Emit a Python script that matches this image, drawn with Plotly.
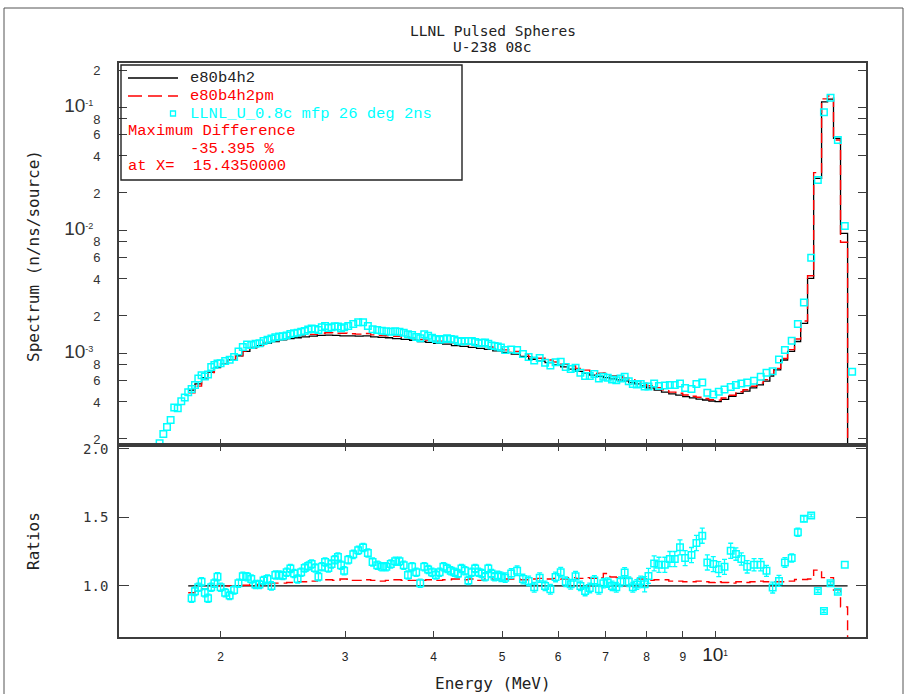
import plotly.graph_objects as go
import numpy as np

# ---------------- data ----------------
# Experimental points (energy in MeV) and measured spectrum (n/ns/source)
exp_energy = [
    1.64, 1.66, 1.68, 1.70, 1.72, 1.74, 1.76, 1.78, 1.80,
    1.82, 1.84, 1.86, 1.88, 1.90, 1.92, 1.94, 1.96, 1.98, 2.00,
    2.03, 2.06, 2.09, 2.12, 2.15, 2.18, 2.21, 2.24, 2.27, 2.30, 2.33, 2.36, 2.39, 2.42, 2.45, 2.48,
    2.51, 2.54, 2.57, 2.60, 2.63, 2.66, 2.69, 2.72, 2.75, 2.78, 2.81, 2.84, 2.87, 2.90, 2.93, 2.96, 2.99,
    3.03, 3.08, 3.13, 3.18, 3.23, 3.28, 3.33, 3.38, 3.43, 3.48, 3.53, 3.58, 3.63, 3.68, 3.73, 3.78,
    3.83, 3.88, 3.93, 3.98, 4.03, 4.08, 4.13, 4.18, 4.23, 4.28, 4.33, 4.38, 4.43, 4.48, 4.53, 4.58,
    4.63, 4.68, 4.73, 4.78, 4.83, 4.88, 4.93, 4.98,
    5.05, 5.15, 5.25, 5.35, 5.45, 5.55, 5.65, 5.75, 5.85, 5.95, 6.05, 6.15, 6.25, 6.35, 6.45,
    6.55, 6.65, 6.75, 6.85, 6.95, 7.05, 7.15, 7.25, 7.35, 7.45, 7.55, 7.65, 7.75, 7.85, 7.95,
    8.05, 8.20, 8.33, 8.49, 8.63, 8.77, 8.92, 9.07, 9.26, 9.41, 9.59, 9.75, 9.94, 10.12, 10.31, 10.52, 10.70,
    10.89, 11.10, 11.35, 11.60, 11.82, 12.06, 12.31, 12.55, 12.83, 13.09, 13.35, 13.67, 13.97,
    14.25, 14.56, 14.91, 15.25, 15.62,
]
exp_spectrum = [
    1.85e-4, 2.2e-4, 2.5e-4, 2.85e-4, 3.6e-4, 3.55e-4, 4.05e-4, 4.35e-4, 4.8e-4,
    5.1e-4, 5.5e-4, 6.2e-4, 6.6e-4, 6.45e-4, 6.7e-4, 7.7e-4, 8.0e-4, 8.2e-4, 8.25e-4,
    8.6e-4, 8.8e-4, 9.3e-4, 1.03e-3, 1.12e-3, 1.17e-3, 1.16e-3, 1.19e-3, 1.2e-3, 1.25e-3, 1.28e-3,
    1.31e-3, 1.34e-3, 1.36e-3, 1.37e-3, 1.39e-3, 1.43e-3, 1.45e-3, 1.46e-3, 1.49e-3, 1.51e-3,
    1.55e-3, 1.58e-3, 1.57e-3, 1.54e-3, 1.62e-3, 1.66e-3, 1.6e-3, 1.62e-3, 1.65e-3, 1.64e-3, 1.59e-3, 1.62e-3,
    1.66e-3, 1.72e-3, 1.78e-3, 1.78e-3, 1.66e-3, 1.56e-3, 1.54e-3, 1.52e-3, 1.50e-3, 1.49e-3,
    1.50e-3, 1.49e-3, 1.46e-3, 1.42e-3, 1.40e-3, 1.35e-3, 1.32e-3, 1.42e-3, 1.38e-3, 1.33e-3,
    1.30e-3, 1.28e-3, 1.30e-3, 1.32e-3, 1.30e-3, 1.29e-3, 1.25e-3, 1.24e-3, 1.25e-3, 1.25e-3,
    1.25e-3, 1.23e-3, 1.20e-3, 1.21e-3, 1.22e-3, 1.19e-3, 1.15e-3, 1.14e-3, 1.13e-3, 1.11e-3,
    1.06e-3, 1.07e-3, 1.06e-3, 9.8e-4, 9.3e-4, 8.7e-4, 9.1e-4, 8.35e-4, 7.9e-4, 8.4e-4,
    8.5e-4, 7.7e-4, 7.4e-4, 7.6e-4, 6.9e-4, 6.5e-4, 6.5e-4, 6.75e-4, 6.2e-4, 6.4e-4,
    6.3e-4, 6.1e-4, 6.0e-4, 6.2e-4, 6.4e-4, 5.9e-4, 5.6e-4, 5.55e-4, 5.6e-4, 5.35e-4,
    5.35e-4, 5.65e-4, 5.4e-4, 5.45e-4, 5.5e-4, 5.5e-4, 5.65e-4, 5.2e-4, 5.1e-4, 5.6e-4,
    5.75e-4, 4.75e-4, 4.6e-4, 4.85e-4, 5.05e-4, 5.3e-4, 5.5e-4,
    5.65e-4, 5.75e-4, 5.95e-4, 6.4e-4, 6.9e-4, 7.1e-4, 8.85e-4, 1.06e-3, 1.26e-3, 1.72e-3,
    2.58e-3, 5.96e-3, 2.55e-2, 9.05e-2, 0.119, 0.054, 0.0108, 7.05e-4,
]

# Ratio experiment / e80b4h2 (points from 1.82 to 15.25 MeV) and its error bars
ratio_energy = exp_energy[9:-1]
ratio_exp = [
    0.91, 0.96, 0.99, 1.03, 0.95, 0.91, 0.99, 1.02, 1.066, 0.99,
    0.95, 0.93, 0.97, 1.02, 1.07, 1.066, 1.05, 1.01, 1.01, 1.04, 1.05, 1.0, 1.08, 1.08, 1.075,
    1.1, 1.127, 1.09, 1.05, 1.1, 1.13, 1.145, 1.16, 1.13, 1.066, 1.14, 1.175, 1.13, 1.16, 1.19,
    1.21, 1.15, 1.11,
    1.19, 1.23, 1.26, 1.28, 1.24, 1.175, 1.15, 1.14, 1.14, 1.16, 1.18, 1.18, 1.15, 1.08, 1.14,
    1.1, 1.02, 1.14, 1.12, 1.1, 1.08, 1.1, 1.14, 1.127, 1.11, 1.1, 1.09, 1.127, 1.11, 1.04, 1.1,
    1.127, 1.1, 1.09, 1.066, 1.127, 1.09, 1.066, 1.078, 1.066,
    1.06, 1.09, 1.11, 1.05, 1.036, 0.99, 1.06, 1.0, 0.975, 1.065, 1.1, 1.03, 1.012, 1.07, 1.0,
    0.963, 0.985, 1.04, 0.975, 1.02, 1.024, 1.0, 0.99, 1.03, 1.098, 1.03, 0.99, 1.01, 1.036, 1.012,
    1.073, 1.164, 1.154, 1.154, 1.196, 1.196, 1.281, 1.203, 1.225, 1.313, 1.366, 1.171, 1.159,
    1.122, 1.139, 1.256, 1.232,
    1.196, 1.139, 1.154, 1.154, 1.11, 0.988, 1.036, 1.171, 1.203, 1.391, 1.489, 1.513, 0.963,
    0.816, 1.02, 0.958, 1.154,
]
ratio_err = [
    0.03, 0.03, 0.03, 0.03, 0.03, 0.03, 0.03, 0.03, 0.03, 0.03,
    0.03, 0.03, 0.03, 0.03, 0.03, 0.03, 0.03, 0.03, 0.03, 0.03, 0.03, 0.03, 0.03, 0.03, 0.03,
    0.03, 0.03, 0.03, 0.03, 0.03, 0.03, 0.03, 0.03, 0.03, 0.03, 0.03, 0.03, 0.03, 0.03, 0.03,
    0.03, 0.03, 0.03,
    0.03, 0.03, 0.03, 0.03, 0.03, 0.03, 0.03, 0.03, 0.03, 0.03, 0.03, 0.03, 0.03, 0.03, 0.03,
    0.03, 0.03, 0.03, 0.03, 0.03, 0.03, 0.03, 0.03, 0.03, 0.03, 0.03, 0.03, 0.03, 0.03, 0.03,
    0.03, 0.03, 0.03, 0.03, 0.03, 0.03, 0.03, 0.03, 0.03,
    0.035, 0.035, 0.035, 0.035, 0.035, 0.035, 0.035, 0.035, 0.035, 0.035, 0.035, 0.035, 0.035,
    0.035, 0.035, 0.035, 0.035, 0.035, 0.035, 0.035, 0.035, 0.035, 0.035, 0.035, 0.035, 0.035,
    0.035, 0.035, 0.035, 0.035,
    0.055, 0.055, 0.055, 0.055, 0.055, 0.055, 0.055, 0.055, 0.055, 0.055, 0.055, 0.055, 0.055,
    0.055, 0.055, 0.055, 0.055,
    0.045, 0.045, 0.045, 0.045, 0.045, 0.04, 0.04, 0.04, 0.035, 0.03, 0.03, 0.02, 0.01,
    0.01, 0.01, 0.01, 0.01,
]

# Calculated spectra (histogram bins; value holds from this edge to the next one)
calc_edges = [
    1.80, 1.84, 1.88, 1.92, 1.96, 2.00, 2.05, 2.10, 2.15, 2.20, 2.25, 2.30, 2.36, 2.42, 2.48,
    2.54, 2.60, 2.67, 2.74, 2.81, 2.88, 2.95, 3.02, 3.10, 3.18, 3.26, 3.34, 3.42, 3.50, 3.60,
    3.70, 3.80, 3.90, 4.00, 4.12, 4.24, 4.36, 4.48, 4.60, 4.72, 4.85, 5.00, 5.15, 5.30, 5.45,
    5.60, 5.75, 5.90, 6.05, 6.20, 6.35, 6.50, 6.65, 6.80, 6.95, 7.10, 7.25, 7.40, 7.55, 7.70,
    7.85, 8.00, 8.20, 8.40, 8.60, 8.80, 9.00, 9.20, 9.40, 9.60, 9.80, 10.00, 10.20, 10.45,
    10.70, 10.95, 11.20, 11.45, 11.70, 11.95, 12.10, 12.38, 12.66, 12.95, 13.21, 13.51, 13.78,
    14.14, 14.42, 14.70, 15.04, 15.39, 15.50,
]
calc_e80b4h2 = [
    5.0e-4, 5.6e-4, 6.3e-4, 7.0e-4, 7.6e-4, 8.2e-4, 8.8e-4, 9.5e-4, 1.03e-3, 1.10e-3,
    1.15e-3, 1.20e-3, 1.24e-3, 1.28e-3, 1.31e-3, 1.33e-3, 1.35e-3, 1.37e-3, 1.39e-3, 1.40e-3,
    1.39e-3, 1.38e-3, 1.38e-3, 1.37e-3, 1.38e-3, 1.35e-3, 1.34e-3, 1.33e-3, 1.31e-3, 1.29e-3,
    1.27e-3, 1.24e-3, 1.22e-3, 1.20e-3, 1.18e-3, 1.15e-3, 1.13e-3, 1.11e-3, 1.09e-3, 1.07e-3,
    1.04e-3, 1.01e-3, 9.8e-4, 9.4e-4, 8.9e-4, 8.6e-4, 8.35e-4, 8.0e-4, 7.7e-4, 7.4e-4,
    7.1e-4, 6.85e-4, 6.6e-4, 6.45e-4, 6.3e-4, 6.15e-4, 6.05e-4, 5.95e-4, 5.75e-4, 5.6e-4,
    5.4e-4, 5.2e-4, 5.0e-4, 4.8e-4, 4.65e-4, 4.55e-4, 4.42e-4, 4.32e-4, 4.22e-4, 4.15e-4,
    4.07e-4, 4.02e-4, 4.2e-4, 4.45e-4, 4.7e-4, 4.9e-4, 5.2e-4, 5.5e-4, 5.9e-4, 6.5e-4,
    7.28e-4, 8.77e-4, 1.03e-3, 1.24e-3, 1.74e-3, 4.05e-3, 2.63e-2, 0.110, 0.116, 0.0557,
    9.4e-3, 1e-7, 1e-7,
]
calc_e80b4h2pm = [
    4.75e-4, 5.38e-4, 6.17e-4, 6.93e-4, 7.6e-4, 8.2e-4, 8.8e-4, 9.5e-4, 1.035e-3, 1.111e-3,
    1.162e-3, 1.218e-3, 1.265e-3, 1.306e-3, 1.343e-3, 1.370e-3, 1.391e-3, 1.418e-3, 1.446e-3, 1.463e-3,
    1.446e-3, 1.449e-3, 1.435e-3, 1.425e-3, 1.442e-3, 1.404e-3, 1.387e-3, 1.383e-3, 1.369e-3, 1.342e-3,
    1.321e-3, 1.290e-3, 1.275e-3, 1.248e-3, 1.233e-3, 1.208e-3, 1.181e-3, 1.166e-3, 1.134e-3, 1.124e-3,
    1.087e-3, 1.061e-3, 1.029e-3, 9.82e-4, 9.35e-4, 9.07e-4, 8.77e-4, 8.44e-4, 8.09e-4, 7.84e-4,
    7.49e-4, 7.26e-4, 6.96e-4, 6.84e-4, 6.87e-4, 6.55e-4, 6.41e-4, 6.28e-4, 6.07e-4, 5.88e-4,
    5.67e-4, 5.41e-4, 5.23e-4, 5.02e-4, 4.81e-4, 4.71e-4, 4.55e-4, 4.45e-4, 4.37e-4, 4.27e-4,
    4.17e-4, 4.14e-4, 4.31e-4, 4.54e-4, 4.84e-4, 5.02e-4, 5.36e-4, 5.69e-4, 6.08e-4, 6.70e-4,
    7.50e-4, 9.03e-4, 1.066e-3, 1.298e-3, 1.822e-3, 4.25e-3, 2.93e-2, 0.1166, 0.123, 0.054,
    7.96e-3, 1e-7, 1e-7,
]
ratio_pm = [
    0.95, 0.96, 0.98, 0.99, 1.0, 1.0, 1.0, 1.0, 1.005, 1.01,
    1.01, 1.015, 1.02, 1.02, 1.025, 1.03, 1.03, 1.035, 1.04, 1.045,
    1.04, 1.05, 1.04, 1.04, 1.045, 1.04, 1.035, 1.04, 1.045, 1.04,
    1.04, 1.04, 1.045, 1.04, 1.045, 1.05, 1.045, 1.05, 1.04, 1.05,
    1.045, 1.05, 1.05, 1.045, 1.05, 1.055, 1.05, 1.055, 1.05, 1.06,
    1.055, 1.06, 1.055, 1.06, 1.09, 1.065, 1.06, 1.055, 1.055, 1.05,
    1.05, 1.04, 1.045, 1.045, 1.035, 1.035, 1.03, 1.03, 1.035, 1.03,
    1.025, 1.03, 1.025, 1.02, 1.03, 1.025, 1.03, 1.035, 1.03, 1.03,
    1.03, 1.03, 1.035, 1.047, 1.047, 1.05, 1.115, 1.06, 1.06, 0.97,
    0.847, 0.3, 0.3,
]

x_tick_values = [2, 3, 4, 5, 6, 7, 8, 9, 10]
x_tick_labels = ['2', '3', '4', '5', '6', '7', '8', '9',
                 '<span style="font-size:19px">10</span><sup>1</sup>']
ratio_tick_values = [1.0, 1.5, 2.0]
ratio_tick_labels = ['1.0', '1.5', '2.0']

# ---------------- styling ----------------
AX = '#3c3c3c'
CYAN = '#00FFFF'
RED = '#FF0000'
MONO = 'DejaVu Sans Mono'
COUR = 'Liberation Mono'
NB = '\u00a0'

X_RANGE = [np.log10(1.437), np.log10(16.34)]
Y_RANGE = [-3.748, -0.642]
R_RANGE = [0.627, 2.028]
SPLIT = 0.3345

# tick positions for the log spectrum axis: labelled (2,4,6,8,10) / unlabelled (3,5,7,9)
lab_vals, lab_text, plain_vals, decade_vals = [], [], [], []
for d in range(-4, 0):
    for k in range(1, 10):
        v = k * 10.0 ** d
        lv = np.log10(v)
        if Y_RANGE[0] <= lv <= Y_RANGE[1]:
            if k == 1:
                lab_vals.append(v)
                lab_text.append('<span style="font-size:19px">10</span><sup>%d</sup>%s' % (d, NB * 2))
                decade_vals.append(v)
            elif k in (2, 4, 6, 8):
                lab_vals.append(v)
                lab_text.append(str(k))
            else:
                plain_vals.append(v)

minor_ratio_vals = [round(0.65 + 0.05 * i, 2) for i in range(28) if 0.65 + 0.05 * i <= 2.0]

calc_y = np.array(calc_e80b4h2)
ref_ratio = calc_y[:-1] / calc_y[:-1]

fig = go.Figure()

# ---- top panel ----
fig.add_trace(go.Scatter(x=calc_edges, y=calc_e80b4h2, mode='lines', line_shape='hv',
                         line=dict(color='black', width=1.3), xaxis='x', yaxis='y'))
fig.add_trace(go.Scatter(x=calc_edges, y=calc_e80b4h2pm, mode='lines', line_shape='hv',
                         line=dict(color=RED, width=1.4, dash='10px,5px'), xaxis='x', yaxis='y'))
fig.add_trace(go.Scatter(x=exp_energy, y=exp_spectrum, mode='markers',
                         marker=dict(symbol='square-open', size=6.5, color=CYAN, line=dict(width=1.5, color=CYAN)),
                         xaxis='x', yaxis='y'))

# ---- ratio panel ----
fig.add_trace(go.Scatter(x=calc_edges[:-1], y=ref_ratio, mode='lines', line_shape='hv',
                         line=dict(color='black', width=1.3), xaxis='x2', yaxis='y2'))
fig.add_trace(go.Scatter(x=calc_edges, y=ratio_pm, mode='lines', line_shape='hv',
                         line=dict(color=RED, width=1.4, dash='10px,5px'), xaxis='x2', yaxis='y2'))
fig.add_trace(go.Scatter(x=ratio_energy, y=ratio_exp, mode='markers',
                         marker=dict(symbol='square-open', size=6.5, color=CYAN, line=dict(width=1.5, color=CYAN)),
                         error_y=dict(type='data', array=ratio_err, color=CYAN, thickness=1.3, width=2.5),
                         xaxis='x2', yaxis='y2'))

common = dict(showgrid=False, zeroline=False, showline=True, linecolor=AX, linewidth=1.6,
              ticks='inside', tickcolor=AX, tickwidth=1.2)
cx = dict(common, type='log', range=X_RANGE)
cy = dict(common, type='log', range=Y_RANGE)
cr = dict(common, range=R_RANGE)

fig.update_layout(
    width=906, height=694,
    margin=dict(l=119, r=40, t=63, b=57),
    paper_bgcolor='white', plot_bgcolor='white', showlegend=False,
    xaxis=dict(cx, anchor='y', domain=[0, 1], tickvals=x_tick_values, ticklen=6,
               showticklabels=False, mirror=True),
    xaxis3=dict(cx, anchor='y', overlaying='x', tickvals=[10], ticklen=15, showticklabels=False),
    xaxis2=dict(cx, anchor='y2', domain=[0, 1], tickvals=x_tick_values, ticktext=x_tick_labels,
                ticklen=6, mirror='ticks',
                tickfont=dict(family='Liberation Sans', size=12, color='#222'), ticklabelstandoff=8),
    xaxis4=dict(cx, anchor='y2', overlaying='x2', tickvals=[10], ticklen=18, mirror='ticks',
                showticklabels=False),
    yaxis=dict(cy, domain=[SPLIT, 1], anchor='x', mirror='ticks', ticklen=8,
               tickvals=lab_vals, ticktext=lab_text,
               tickfont=dict(family='Liberation Sans', size=13, color='#333'), ticklabelstandoff=14),
    yaxis3=dict(cy, overlaying='y', anchor='x', mirror='ticks', ticklen=16, tickvals=decade_vals,
                showticklabels=False),
    yaxis5=dict(cy, overlaying='y', anchor='x', mirror='ticks', ticklen=8, tickvals=plain_vals,
                showticklabels=False),
    yaxis2=dict(cr, domain=[0, SPLIT], anchor='x2', mirror='ticks', ticklen=10,
                tickvals=ratio_tick_values, ticktext=ratio_tick_labels,
                tickfont=dict(family=MONO, size=14, color='#333'), ticklabelstandoff=6),
    yaxis4=dict(cr, overlaying='y2', anchor='x2', mirror='ticks', ticklen=5,
                tickvals=minor_ratio_vals, showticklabels=False),
)

def px(xp):
    return (xp - 119) / 747.0

def py(yp):
    return (637 - yp) / 574.0

ann = []
def text(s, x, y, size=16, color='#222', family=MONO, xanchor='center', angle=0):
    ann.append(dict(text=s, x=px(x), y=py(y), xref='paper', yref='paper', showarrow=False,
                    xanchor=xanchor, yanchor='middle', textangle=angle,
                    font=dict(family=family, size=size, color=color)))

text('LLNL Pulsed Spheres', 492.5, 31, size=14.5)
text('U-238 08c', 492.5, 47, size=14.5)
text('Energy (MeV)', 492.5, 683, size=16)
text('Spectrum (n/ns/source)', 33, 256, size=16, angle=-90)
text('Ratios', 33, 541, size=16, angle=-90)

LS = 15.5
text('e80b4h2', 188, 78, size=LS, color='#222', family=COUR, xanchor='left')
text('e80b4h2pm', 188, 96, size=LS, color=RED, family=COUR, xanchor='left')
text('LLNL_U_0.8c mfp 26 deg 2ns', 188, 113.5, size=LS, color=CYAN, family=COUR, xanchor='left')
text('Maximum Difference', 126, 131, size=LS, color=RED, family=COUR, xanchor='left')
text('-35.395 %', 188, 148.5, size=LS, color=RED, family=COUR, xanchor='left')
text('at X=' + NB + NB + '15.4350000', 126, 165.5, size=LS, color=RED, family=COUR, xanchor='left')

shapes = [
    # outer frame
    dict(type='rect', xref='paper', yref='paper', x0=px(4), x1=px(903), y0=py(720), y1=py(8),
         line=dict(color='#555', width=1)),
    # legend box
    dict(type='rect', xref='paper', yref='paper', x0=px(121), x1=px(462), y0=py(180), y1=py(65),
         line=dict(color='#222', width=1.4), fillcolor='rgba(0,0,0,0)'),
    # legend samples
    dict(type='line', xref='paper', yref='paper', x0=px(128), x1=px(178), y0=py(78), y1=py(78),
         line=dict(color='black', width=1.3)),
    dict(type='line', xref='paper', yref='paper', x0=px(128), x1=px(178), y0=py(96), y1=py(96),
         line=dict(color=RED, width=1.4, dash='14px,6px')),
    dict(type='rect', xref='paper', yref='paper', x0=px(170.5), x1=px(175.5), y0=py(116), y1=py(111),
         line=dict(color=CYAN, width=1.3)),
]

fig.update_layout(annotations=ann, shapes=shapes)

fig.write_html('out.html', include_plotlyjs=True, config={'displayModeBar': False})
